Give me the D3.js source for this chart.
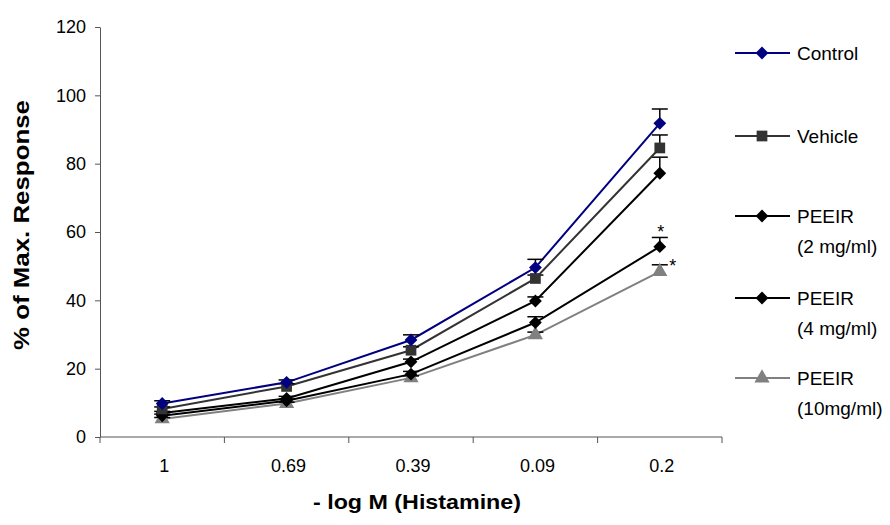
<!DOCTYPE html>
<html>
<head>
<meta charset="utf-8">
<script src="https://cdn.jsdelivr.net/npm/d3@7"></script>
<style>
  body { margin: 0; background: #fff; }
  text { font-family: "Liberation Sans", Arial, sans-serif; }
</style>
</head>
<body>
<script>
// categories on the x axis
var doses = ["1", "0.69", "0.39", "0.09", "0.2"];

// mean response per group
var control  = [9.8, 16.0, 28.4, 49.6, 91.8];
var vehicle  = [8.2, 14.8, 25.4, 46.4, 84.6];
var peeir2   = [7.0, 11.3, 22.0, 39.8, 77.2];
var peeir4   = [6.2, 10.6, 18.4, 33.5, 55.7];
var peeir10  = [5.3,  9.8, 17.3, 29.9, 48.4];

// upper error (SEM)
var controlErr = [0.8, 0.7, 1.5, 2.4, 4.2];
var vehicleErr = [0.6, 0.8, 1.0, 1.0, 3.8];
var peeir2Err  = [0.5, 0.6, 0.8, 1.2, 4.7];
var peeir4Err  = [0.5, 0.5, 0.8, 1.7, 2.7];
var peeir10Err = [0.4, 0.4, 0.6, 0.8, 2.0];

var yTicks = [0, 20, 40, 60, 80, 100, 120];

var series = [
  {name: ["Control"], values: control, err: controlErr, color: "#000080", sym: "diamond"},
  {name: ["Vehicle"], values: vehicle, err: vehicleErr, color: "#333333", sym: "square"},
  {name: ["PEEIR", "(2 mg/ml)"], values: peeir2, err: peeir2Err, color: "#000000", sym: "diamond"},
  {name: ["PEEIR", "(4 mg/ml)"], values: peeir4, err: peeir4Err, color: "#000000", sym: "diamond"},
  {name: ["PEEIR", "(10mg/ml)"], values: peeir10, err: peeir10Err, color: "#808080", sym: "triangle"}
];

var margin = {top: 27, right: 168, bottom: 88, left: 100},
    width = 890 - margin.left - margin.right,
    height = 525 - margin.top - margin.bottom;

var svg = d3.select("body").append("svg")
    .attr("width", 890)
    .attr("height", 525);

var g = svg.append("g")
    .attr("transform", "translate(" + margin.left + "," + margin.top + ")");

var x = d3.scaleBand().domain(doses).range([0, width]);
var y = d3.scaleLinear().domain([0, 120]).range([height, 0]);

function cx(i) { return x(doses[i]) + x.bandwidth() / 2; }

function symbolPath(s) {
  if (s == "square") return d3.symbol(d3.symbolSquare, 115)();
  if (s == "triangle") return d3.symbol(d3.symbolTriangle, 100)();
  return d3.symbol(d3.symbolSquare, 82)();
}
function symbolRot(s) { return s == "diamond" ? " rotate(45)" : ""; }

// y axis
var yAxis = g.append("g")
    .call(d3.axisLeft(y).tickValues(yTicks).tickSize(5).tickSizeOuter(0).tickPadding(9));
yAxis.select(".domain").attr("stroke", "#555");
yAxis.selectAll(".tick line").attr("stroke", "#555");
yAxis.selectAll("text").attr("font-size", 18).attr("fill", "#000")
    .attr("font-family", "Liberation Sans, Arial, sans-serif");

// x axis, ticks between categories
var xAxis = g.append("g").attr("transform", "translate(0," + height + ")");
xAxis.append("line").attr("x1", 0).attr("x2", width).attr("stroke", "#555");
var edges = doses.map(function(d) { return x(d); }).concat([width]);
xAxis.selectAll(".edge").data(edges).enter().append("line")
    .attr("x1", function(d) { return d; }).attr("x2", function(d) { return d; })
    .attr("y1", 0).attr("y2", 6).attr("stroke", "#555");
xAxis.selectAll(".lab").data(doses).enter().append("text")
    .attr("x", function(d) { return x(d) + x.bandwidth() / 2 + 2; })
    .attr("y", 35)
    .attr("text-anchor", "middle")
    .attr("font-size", 18)
    .text(function(d) { return d; });

// axis titles
g.append("text")
    .attr("x", width / 2 + 6).attr("y", height + 72)
    .attr("text-anchor", "middle")
    .attr("font-size", 21).attr("font-weight", "bold")
    .attr("textLength", 208).attr("lengthAdjust", "spacingAndGlyphs")
    .text("- log M (Histamine)");

g.append("text")
    .attr("transform", "translate(" + (-71) + "," + (height / 2 - 7) + ") rotate(-90)")
    .attr("text-anchor", "middle")
    .attr("font-size", 22).attr("font-weight", "bold")
    .attr("textLength", 250).attr("lengthAdjust", "spacingAndGlyphs")
    .text("% of Max. Response");

var line = d3.line()
    .x(function(d, i) { return cx(i); })
    .y(function(d) { return y(d); });

// draw series from the back (last) to front
series.slice().reverse().forEach(function(s) {
  g.append("path")
      .datum(s.values)
      .attr("fill", "none")
      .attr("stroke", s.color)
      .attr("stroke-width", 2)
      .attr("d", line);

  // upper error bars
  s.values.forEach(function(v, i) {
    var top = y(v + s.err[i]);
    g.append("line")
        .attr("x1", cx(i)).attr("x2", cx(i))
        .attr("y1", y(v)).attr("y2", top)
        .attr("stroke", "#000").attr("stroke-width", 1.5);
    g.append("line")
        .attr("x1", cx(i) - 8).attr("x2", cx(i) + 8)
        .attr("y1", top).attr("y2", top)
        .attr("stroke", "#000").attr("stroke-width", 1.5);
  });

  g.selectAll(null).data(s.values).enter().append("path")
      .attr("d", symbolPath(s.sym))
      .attr("transform", function(d, i) {
        return "translate(" + cx(i) + "," + y(d) + ")" + symbolRot(s.sym);
      })
      .attr("fill", s.color);
});

// significance marks
g.append("text")
    .attr("x", cx(4) + 1).attr("y", y(peeir4[4] + peeir4Err[4]) + 1)
    .attr("text-anchor", "middle").attr("font-size", 18)
    .text("*");
g.append("text")
    .attr("x", cx(4) + 13).attr("y", y(peeir10[4] + peeir10Err[4]) + 7)
    .attr("text-anchor", "middle").attr("font-size", 18)
    .text("*");

// legend
var legendY = [53, 136, 216, 298, 378];
var legend = svg.append("g").attr("transform", "translate(735,0)");
series.forEach(function(s, i) {
  var ly = legendY[i];
  legend.append("line")
      .attr("x1", 0).attr("x2", 55)
      .attr("y1", ly).attr("y2", ly)
      .attr("stroke", s.color).attr("stroke-width", 2);
  legend.append("path")
      .attr("d", symbolPath(s.sym))
      .attr("transform", "translate(27," + ly + ")" + symbolRot(s.sym))
      .attr("fill", s.color);
  s.name.forEach(function(t, k) {
    legend.append("text")
        .attr("x", 62).attr("y", ly + 7 + k * 30)
        .attr("font-size", 19)
        .text(t);
  });
});
</script>
</body>
</html>
